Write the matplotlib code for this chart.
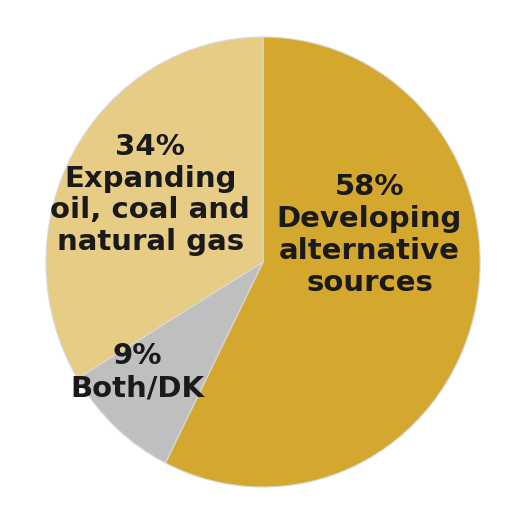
import matplotlib
matplotlib.use("Agg")
import matplotlib.pyplot as plt

# dados do grafico
categorias = ["Developing\nalternative\nsources", "Both/DK", "Expanding\noil, coal and\nnatural gas"]
valores = [58, 9, 34]
cores = ["#D4A82E", "#BFBFBF", "#E6CC85"]

# posicao dos rotulos (coordenadas do eixo)
pos_rotulos = [(0.49, 0.12), (-0.58, -0.49), (-0.52, 0.30)]

fig = plt.figure(figsize=(5.12, 5.12), dpi=100)
ax = fig.add_axes([0.0898, 0.0488, 0.848, 0.879])

ax.pie(valores, colors=cores, startangle=90, counterclock=False,
       wedgeprops=dict(edgecolor="#d9d9d9", linewidth=0.8))

for cat, v, (x, y) in zip(categorias, valores, pos_rotulos):
    ax.text(x, y, f"{v}%\n{cat}", ha="center", va="center",
            fontsize=21, fontweight="bold", color="#1a1a1a",
            family="DejaVu Sans", linespacing=1.18)

ax.set_aspect("auto")
ax.set_xlim(-1, 1)
ax.set_ylim(-1, 1)
ax.axis("off")

plt.savefig("out.png", dpi=100)
